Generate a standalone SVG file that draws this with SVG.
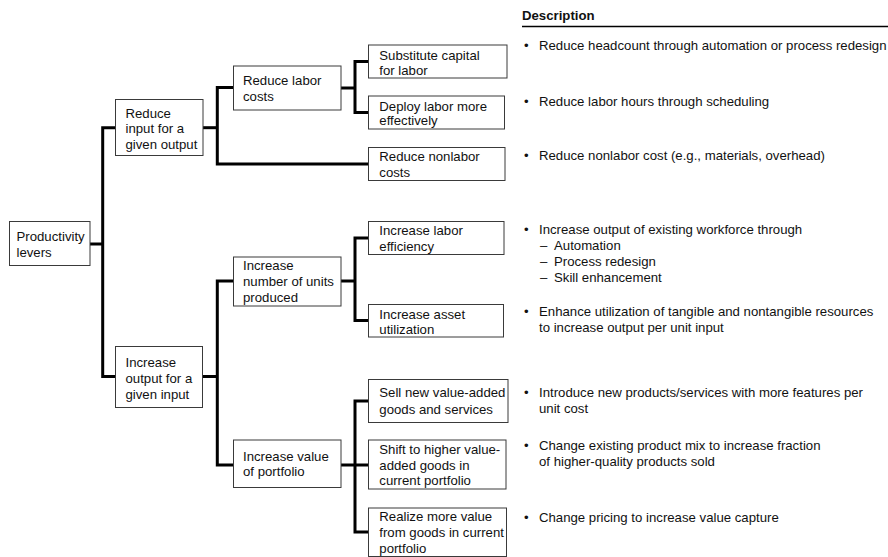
<svg xmlns="http://www.w3.org/2000/svg" width="888" height="557" viewBox="0 0 888 557">
  <style>
    text { font-family: "Liberation Sans", Arial, sans-serif; font-size: 13.2px; fill: #111; }
    .box { fill: #fff; stroke: #3a3a3a; stroke-width: 1; }
    .wire { fill: none; stroke: #000; stroke-width: 3; stroke-linejoin: miter; stroke-linecap: butt; }
    .head { font-weight: bold; }
  </style>
  <rect width="888" height="557" fill="#fff"/>

  <!-- connectors (tree branches) -->
  <g id="connectors" class="wire">
    <path d="M90,244 H102.7"/>
    <path d="M115.5,127.7 H102.7 V376.5 H115.5"/>
    <path d="M203,127.7 H217.3"/>
    <path d="M233.5,87.5 H217.3 V164 H368.5"/>
    <path d="M341,88 H355"/>
    <path d="M368.5,61.5 H355 V112.5 H368.5"/>
    <path d="M202.5,376.5 H217.3"/>
    <path d="M233.5,281 H217.3 V465 H233.5"/>
    <path d="M341,281 H355"/>
    <path d="M368.5,238 H355 V320.5 H368.5"/>
    <path d="M341,465 H355"/>
    <path d="M368.5,401 H355 V532 H368.5"/>
    <path d="M355,465 H368.5"/>
  </g>

  <!-- level 1 -->
  <g id="productivity-levers">
    <rect class="box" x="9.5" y="221.5" width="80.5" height="44"/>
    <text x="16.5" y="241.2">Productivity</text>
    <text x="16.5" y="256.8">levers</text>
  </g>

  <!-- level 2 -->
  <g id="reduce-input">
    <rect class="box" x="115.5" y="99.5" width="87.5" height="56"/>
    <text x="125.5" y="117.5">Reduce</text>
    <text x="125.5" y="133.3">input for a</text>
    <text x="125.5" y="149">given output</text>
  </g>
  <g id="increase-output">
    <rect class="box" x="115.5" y="346.5" width="87" height="61"/>
    <text x="125.5" y="366.8">Increase</text>
    <text x="125.5" y="382.8">output for a</text>
    <text x="125.5" y="398.5">given input</text>
  </g>

  <!-- level 3 -->
  <g id="reduce-labor-costs">
    <rect class="box" x="233.5" y="66" width="107.5" height="44"/>
    <text x="243" y="84.5">Reduce labor</text>
    <text x="243" y="100.5">costs</text>
  </g>
  <g id="increase-units">
    <rect class="box" x="233.5" y="257" width="107.5" height="49"/>
    <text x="243" y="270.2">Increase</text>
    <text x="243" y="285.5">number of units</text>
    <text x="243" y="301.8">produced</text>
  </g>
  <g id="increase-value">
    <rect class="box" x="233.5" y="440" width="107.5" height="47.5"/>
    <text x="243" y="461.2">Increase value</text>
    <text x="243" y="476.2">of portfolio</text>
  </g>

  <!-- level 4 -->
  <g id="substitute-capital">
    <rect class="box" x="368.5" y="45" width="138.5" height="33"/>
    <text x="379.3" y="59.5">Substitute capital</text>
    <text x="379.3" y="75.2">for labor</text>
  </g>
  <g id="deploy-labor">
    <rect class="box" x="368.5" y="96" width="136" height="33"/>
    <text x="379.3" y="110.5">Deploy labor more</text>
    <text x="379.3" y="125.2">effectively</text>
  </g>
  <g id="reduce-nonlabor">
    <rect class="box" x="368.5" y="147.5" width="136.5" height="33"/>
    <text x="379.3" y="161.2">Reduce nonlabor</text>
    <text x="379.3" y="177.2">costs</text>
  </g>
  <g id="labor-efficiency">
    <rect class="box" x="368.5" y="221.5" width="135.5" height="33"/>
    <text x="379.3" y="235.2">Increase labor</text>
    <text x="379.3" y="251.2">efficiency</text>
  </g>
  <g id="asset-utilization">
    <rect class="box" x="368.5" y="304.5" width="135" height="32.5"/>
    <text x="379.3" y="318.8">Increase asset</text>
    <text x="379.3" y="333.8">utilization</text>
  </g>
  <g id="sell-new">
    <rect class="box" x="368.5" y="379.5" width="139.5" height="43"/>
    <text x="379.3" y="397.2">Sell new value-added</text>
    <text x="379.3" y="413.8">goods and services</text>
  </g>
  <g id="shift-higher">
    <rect class="box" x="368.5" y="440" width="137.5" height="49"/>
    <text x="379.3" y="453.8">Shift to higher value-</text>
    <text x="379.3" y="469.5">added goods in</text>
    <text x="379.3" y="485.2">current portfolio</text>
  </g>
  <g id="realize-value">
    <rect class="box" x="368.5" y="508" width="138" height="48.5"/>
    <text x="379.3" y="521.2">Realize more value</text>
    <text x="379.3" y="537.2">from goods in current</text>
    <text x="379.3" y="553.2">portfolio</text>
  </g>

  <!-- description column -->
  <g id="description">
    <text class="head" x="522" y="19.5">Description</text>
    <line x1="522" y1="26.5" x2="888" y2="26.5" stroke="#000" stroke-width="1.3"/>

    <text x="524" y="49.5">•</text>
    <text x="539" y="49.5">Reduce headcount through automation or process redesign</text>

    <text x="524" y="105.5">•</text>
    <text x="539" y="105.5">Reduce labor hours through scheduling</text>

    <text x="524" y="159.5">•</text>
    <text x="539" y="159.5">Reduce nonlabor cost (e.g., materials, overhead)</text>

    <text x="524" y="233.5">•</text>
    <text x="539" y="233.5">Increase output of existing workforce through</text>
    <text x="540" y="249.5">–</text>
    <text x="554" y="249.5">Automation</text>
    <text x="540" y="265.5">–</text>
    <text x="554" y="265.5">Process redesign</text>
    <text x="540" y="281.5">–</text>
    <text x="554" y="281.5">Skill enhancement</text>

    <text x="524" y="315.5">•</text>
    <text x="539" y="315.5">Enhance utilization of tangible and nontangible resources</text>
    <text x="539" y="331.5">to increase output per unit input</text>

    <text x="524" y="396.5">•</text>
    <text x="539" y="396.5">Introduce new products/services with more features per</text>
    <text x="539" y="412.5">unit cost</text>

    <text x="524" y="449.5">•</text>
    <text x="539" y="449.5">Change existing product mix to increase fraction</text>
    <text x="539" y="465.5">of higher-quality products sold</text>

    <text x="524" y="521.5">•</text>
    <text x="539" y="521.5">Change pricing to increase value capture</text>
  </g>
</svg>
